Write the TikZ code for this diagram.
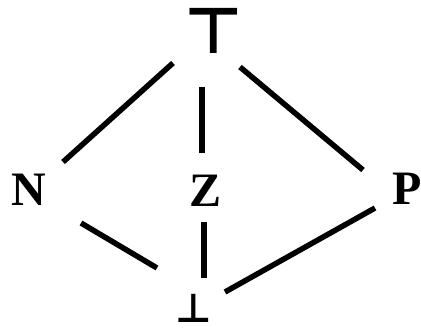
\documentclass[tikz,border=0pt]{standalone}
\usepackage{fontspec}
\setmainfont{Liberation Serif}
\newfontfamily\symfont{DejaVu Sans}
\usetikzlibrary{calc,positioning}

\begin{document}
\begin{tikzpicture}[
  x=1pt, y=-1pt,
  elem/.style={inner sep=0pt, font=\fontsize{48}{48}\selectfont\bfseries},
  topbot/.style={inner sep=0pt, font=\symfont\bfseries\fontsize{#1}{#1}\selectfont},
  edge/.style={line width=5.5pt}
]
\useasboundingbox (0,0) rectangle (421,333);

\node[topbot=64] at (214,30.5) (top) {⊤};
\node[elem] at (29,189.5)  (n) {N};
\node[elem] at (206,191)   (z) {Z};
\node[elem] at (407,189)   (p) {P};
\node[topbot=40, anchor=base] at (193.5,322) (bot) {⊥};

% upper half
\draw[edge] ($(top)+(-41,32.5)$) -- ($(n)+(34,-27.5)$);
\draw[edge] ($(top)+(-12,56.5)$) -- ($(z)+(-4,-38)$);
\draw[edge] ($(top)+(26,36.5)$)  -- ($(p)+(-44,-19)$);
% lower half
\draw[edge] ($(n)+(52,33.5)$)   -- ($(bot.base)+(-36.5,-54)$);
\draw[edge] ($(z)+(-2,31)$)     -- ($(bot.base)+(10.5,-44)$);
\draw[edge] ($(p)+(-32,19)$)    -- ($(bot.base)+(31.5,-30)$);
\end{tikzpicture}
\end{document}
